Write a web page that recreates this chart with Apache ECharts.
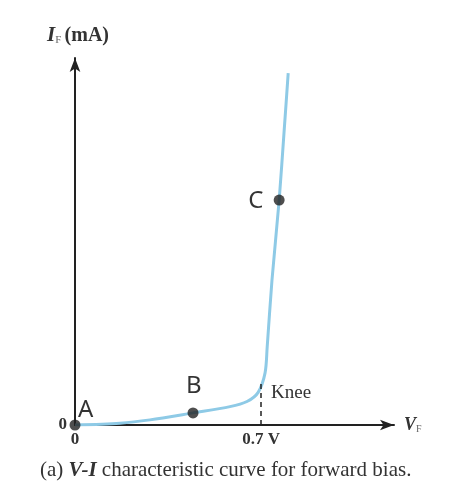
<!DOCTYPE html>
<html>
<head>
    <meta charset="utf-8" />
    <title>V-I characteristic</title>
    <script type="text/javascript" src="https://cdn.jsdelivr.net/npm/echarts@6/dist/echarts.min.js"></script>
    <style>
        html, body { margin: 0; padding: 0; background: #fff; }
        #con1 { width: 450px; height: 499px; }
    </style>
</head>
<body>
    <div id="con1"></div>
    <script type="text/javascript">
        // forward bias curve, VF in volts, IF in mA (arbitrary scale)
        var vf = [0, 0.169, 0.282, 0.444, 0.583, 0.647, 0.689, 0.715, 0.723, 0.741, 0.768, 0.787, 0.802];
        var iF = [0, 0.5, 1.4, 3.3, 5.0, 6.4, 8.9, 14.2, 21.3, 39.5, 61.3, 80.4, 95.9];
        var pointNames = ['A', 'B', 'C'];
        var pointV = [0, 0.444, 0.768];
        var pointI = [0, 3.3, 61.3];
        var kneeV = 0.7;
        var kneeTop = 11.4;
        var xTicks = [0, 0.7];
        var xTickLabels = ['0', '0.7 V'];

        var curve = [];
        for (var i = 0; i < vf.length; i++) {
            curve.push([vf[i], iF[i]]);
        }
        var points = [];
        for (var j = 0; j < pointNames.length; j++) {
            points.push({ name: pointNames[j], value: [pointV[j], pointI[j]] });
        }
        // label offsets from the dot, in px
        var labelPos = { A: [3, -27], B: [-7, -39], C: [-31, -11] };

        var serif = 'Liberation Serif';
        var myChart = echarts.init(document.getElementById('con1'));
        var option = {
            backgroundColor: '#ffffff',
            animation: false,
            grid: { left: 75, right: 56, top: 58, bottom: 74 },
            xAxis: {
                type: 'value',
                min: 0,
                max: 1.2,
                splitLine: { show: false },
                axisTick: { show: false },
                axisLine: {
                    lineStyle: { color: '#222', width: 2 },
                    symbol: ['none', 'arrow'],
                    symbolSize: [8, 14]
                },
                axisLabel: {
                    customValues: xTicks,
                    formatter: function (v) {
                        var k = xTicks.indexOf(v);
                        return k >= 0 ? xTickLabels[k] : '';
                    },
                    color: '#333',
                    fontFamily: serif,
                    fontWeight: 'bold',
                    fontSize: 17,
                    margin: 6
                },
                name: '{i|V}{s|F}',
                nameLocation: 'end',
                nameGap: 10,
                nameTextStyle: {
                    rich: {
                        i: { fontFamily: serif, fontStyle: 'italic', fontWeight: 'bold', fontSize: 18, color: '#333' },
                        s: { fontFamily: serif, fontSize: 10, color: '#666', padding: [9, 0, 0, 0] }
                    }
                }
            },
            yAxis: {
                type: 'value',
                min: 0,
                max: 100,
                splitLine: { show: false },
                axisTick: { show: false },
                axisLine: {
                    lineStyle: { color: '#222', width: 2 },
                    symbol: ['none', 'arrow'],
                    symbolSize: [8, 14]
                },
                axisLabel: {
                    customValues: [0],
                    color: '#333',
                    fontFamily: serif,
                    fontWeight: 'bold',
                    fontSize: 17,
                    margin: 8
                },
                name: '{i|I}{s|F} {t|(mA)}',
                nameLocation: 'end',
                nameGap: 12,
                nameTextStyle: {
                    align: 'center',
                    padding: [0, 0, 0, 6],
                    rich: {
                        i: { fontFamily: serif, fontStyle: 'italic', fontWeight: 'bold', fontSize: 21, color: '#333' },
                        s: { fontFamily: serif, fontSize: 11, color: '#666', padding: [10, 0, 0, 0] },
                        t: { fontFamily: serif, fontWeight: 'bold', fontSize: 20, color: '#333' }
                    }
                }
            },
            graphic: [{
                type: 'text',
                left: 40,
                top: 460,
                style: {
                    text: '(a) {b|V-I} characteristic curve for forward bias.',
                    fontFamily: serif,
                    fontSize: 21,
                    fill: '#333',
                    rich: {
                        b: { fontFamily: serif, fontSize: 21, fontStyle: 'italic', fontWeight: 'bold', fill: '#333' }
                    }
                }
            }],
            series: [
                {
                    type: 'line',
                    data: curve,
                    smooth: 0.3,
                    showSymbol: false,
                    lineStyle: { color: '#8ecae6', width: 3 },
                    z: 3,
                    markLine: {
                        silent: true,
                        symbol: 'none',
                        label: { show: false },
                        lineStyle: { color: '#222', type: [5, 4], width: 1.5 },
                        data: [[{ coord: [kneeV, 0] }, { coord: [kneeV, kneeTop] }]]
                    },
                    markPoint: {
                        silent: true,
                        symbolSize: 0,
                        data: [{ coord: [kneeV, 8.7], value: 'Knee' }],
                        label: {
                            show: true,
                            position: 'right',
                            distance: 10,
                            formatter: 'Knee',
                            fontFamily: serif,
                            fontSize: 19,
                            color: '#333'
                        }
                    }
                },
                {
                    type: 'scatter',
                    data: points,
                    symbolSize: 11,
                    z: 5,
                    itemStyle: { color: '#222' },
                    label: {
                        show: true,
                        formatter: '{b}',
                        position: 'inside',
                        color: '#000',
                        fontFamily: 'Noto Sans',
                        fontSize: 24
                    },
                    labelLayout: function (p) {
                        var o = labelPos[pointNames[p.dataIndex]];
                        return { x: p.rect.x + p.rect.width / 2 + o[0], y: p.rect.y + p.rect.height / 2 + o[1] };
                    }
                }
            ]
        };
        myChart.setOption(option);
    </script>
</body>
</html>
